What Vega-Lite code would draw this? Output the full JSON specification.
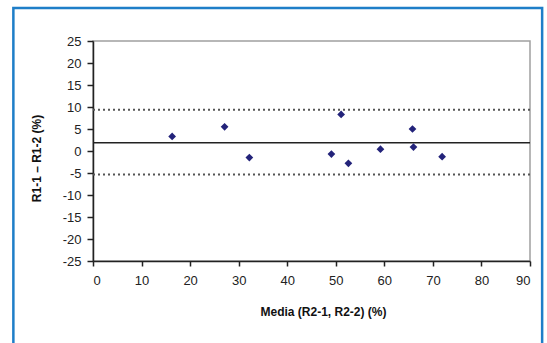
{
  "$schema": "https://vega.github.io/schema/vega-lite/v6.json",
  "width": 437,
  "height": 220,
  "autosize": {"type": "none"},
  "padding": {"left": 93, "top": 41, "right": 17, "bottom": 82},
  "background": "white",
  "config": {
    "locale": {"number": {"decimal": ".", "thousands": ",", "grouping": [3], "currency": ["$", ""], "minus": "-"}},
    "view": {"stroke": "#a0a0a0", "strokeWidth": 1.5},
    "font": "Liberation Sans",
    "axis": {"grid": false, "domainColor": "#222222", "domainWidth": 1.5, "tickColor": "#222222", "tickWidth": 1.5, "labelColor": "#222222", "labelFontSize": 13, "labelFont": "Liberation Sans", "titleFont": "Liberation Sans", "titleFontSize": 12, "titleFontWeight": "bold", "titleColor": "#111111", "labelOverlap": false}
  },
  "datasets": {
    "points": [
      {"media": 16.3, "diff": 3.3},
      {"media": 27.1, "diff": 5.5},
      {"media": 32.2, "diff": -1.5},
      {"media": 49.1, "diff": -0.7},
      {"media": 51.1, "diff": 8.3},
      {"media": 52.6, "diff": -2.8},
      {"media": 59.2, "diff": 0.4},
      {"media": 65.8, "diff": 5.0},
      {"media": 66.0, "diff": 0.9},
      {"media": 71.9, "diff": -1.3}
    ],
    "limits": [
      {"value": 9.4, "kind": "upper"},
      {"value": -5.35, "kind": "lower"}
    ],
    "mean": [
      {"value": 1.85}
    ],
    "frame": [
      {"label": "frame"}
    ]
  },
  "layer": [
    {
      "data": {"name": "limits"},
      "mark": {"type": "rule", "color": "#555555", "strokeWidth": 2, "strokeDash": [2, 3]},
      "encoding": {
        "y": {"field": "value", "type": "quantitative", "scale": {"domain": [-25, 25], "nice": false, "zero": false},
          "axis": {"values": [-25, -20, -15, -10, -5, 0, 5, 10, 15, 20, 25], "tickCount": 11, "labelOverlap": false, "title": "R1-1 – R1-2 (%)", "tickSize": 6, "labelPadding": 6, "titleX": -57, "titleY": 117, "titleBaseline": "middle", "titleAnchor": "middle"}}
      }
    },
    {
      "data": {"name": "mean"},
      "mark": {"type": "rule", "color": "#222222", "strokeWidth": 1.5},
      "encoding": {
        "y": {"field": "value", "type": "quantitative"}
      }
    },
    {
      "data": {"name": "points"},
      "mark": {"type": "point", "shape": "diamond", "filled": true, "color": "#23237a", "size": 60, "opacity": 1},
      "encoding": {
        "x": {"field": "media", "type": "quantitative", "scale": {"domain": [0, 90], "nice": false, "zero": false},
          "axis": {"values": [0, 10, 20, 30, 40, 50, 60, 70, 80, 90], "tickCount": 10, "labelOverlap": false, "title": "Media (R2-1, R2-2) (%)", "tickSize": 5, "labelPadding": 8, "titleX": 230, "titleY": 45, "titleAnchor": "middle"}},
        "y": {"field": "diff", "type": "quantitative"}
      }
    },
    {
      "data": {"name": "frame"},
      "mark": {"type": "rect", "fill": null, "fillOpacity": 0, "stroke": "#1e7ec8", "strokeWidth": 2.5, "clip": false},
      "encoding": {
        "x": {"datum": -16.4, "type": "quantitative"},
        "x2": {"datum": 92.5},
        "y": {"datum": 32.5, "type": "quantitative"},
        "y2": {"datum": -46}
      }
    }
  ]
}
